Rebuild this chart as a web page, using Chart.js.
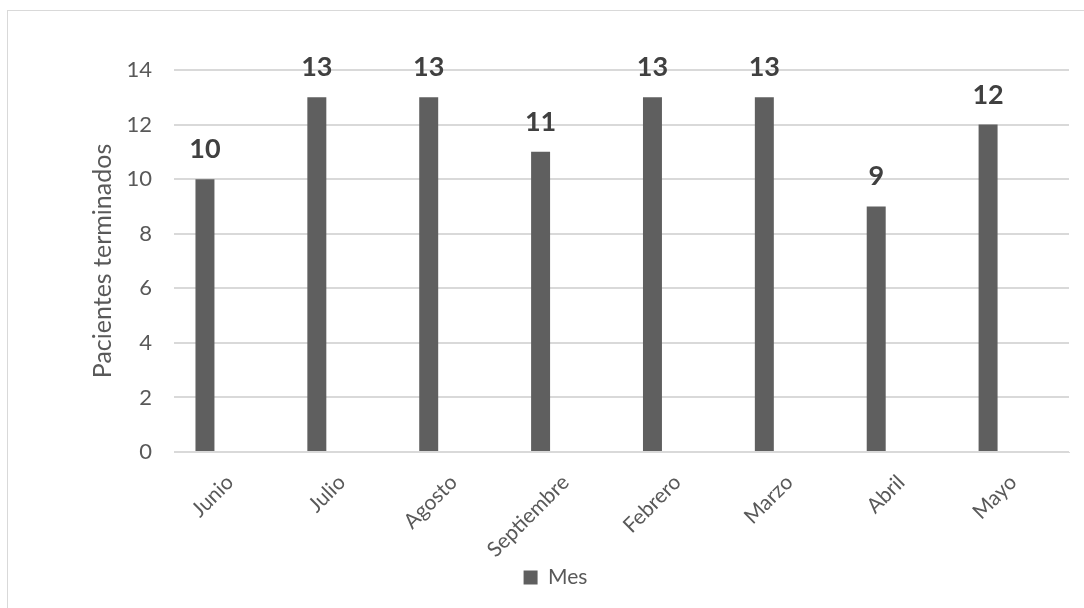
<!DOCTYPE html>
<html>
<head>
<meta charset="utf-8">
<script src="https://cdn.jsdelivr.net/npm/chart.js@4"></script>
<style>
  html, body { margin: 0; padding: 0; background: #fff; }
  #wrap { width: 1084px; height: 608px; position: relative; }
</style>
</head>
<body>
<div id="wrap"><canvas id="chart" width="1084" height="608"></canvas></div>
<script>
const months = ['Junio', 'Julio', 'Agosto', 'Septiembre', 'Febrero', 'Marzo', 'Abril', 'Mayo'];
const pacientes = [10, 13, 13, 11, 13, 13, 9, 12];
const yTicks = [0, 2, 4, 6, 8, 10, 12, 14];

const FONT = 'Lato, "Open Sans", sans-serif';

// outer frame + bold value labels above each bar
const frame = {
  id: 'frame',
  beforeDraw(chart) {
    const ctx = chart.ctx;
    ctx.save();
    ctx.fillStyle = '#fff';
    ctx.fillRect(0, 0, chart.width, chart.height);
    ctx.strokeStyle = '#d9d9d9';
    ctx.lineWidth = 1;
    ctx.strokeRect(7.5, 10.5, 1090, 610);
    ctx.restore();
  }
};

const valueLabels = {
  id: 'valueLabels',
  afterDatasetsDraw(chart) {
    const ctx = chart.ctx;
    const meta = chart.getDatasetMeta(0);
    ctx.save();
    ctx.font = 'bold 27px ' + FONT;
    ctx.fillStyle = '#404040';
    ctx.textAlign = 'center';
    ctx.textBaseline = 'alphabetic';
    meta.data.forEach((bar, i) => {
      ctx.fillText(String(pacientes[i]), bar.x, bar.y - 21);
    });
    ctx.restore();
  }
};

new Chart(document.getElementById('chart'), {
  type: 'bar',
  data: {
    labels: months,
    datasets: [
      {
        label: 'Mes',
        data: pacientes,
        backgroundColor: '#5f5f5f',
        categoryPercentage: 0.893,
        barPercentage: 0.38
      },
      {
        // empty second series keeps the bar on the left of its slot
        label: '',
        data: months.map(() => null),
        backgroundColor: 'rgba(0,0,0,0)',
        categoryPercentage: 0.893,
        barPercentage: 0.38
      }
    ]
  },
  options: {
    responsive: false,
    animation: false,
    events: [],
    layout: { padding: { top: 70, right: 15, left: 42, bottom: 10 } },
    plugins: {
      tooltip: { enabled: false },
      legend: {
        position: 'bottom',
        labels: {
          filter: item => item.text !== '',
          boxWidth: 14,
          boxHeight: 14,
          padding: 10,
          color: '#595959',
          font: { family: FONT, size: 21 }
        }
      }
    },
    scales: {
      x: {
        grid: { display: false },
        border: { color: '#d9d9d9' },
        ticks: {
          color: '#595959',
          font: { family: FONT, size: 21 },
          minRotation: 45,
          maxRotation: 45,
          padding: 10
        },
        afterFit(scale) { scale.height = 105; }
      },
      y: {
        min: 0,
        max: 14,
        afterBuildTicks(scale) { scale.ticks = yTicks.map(v => ({ value: v })); },
        grid: { color: '#d9d9d9', lineWidth: 2, drawTicks: false },
        border: { display: false },
        ticks: {
          color: '#595959',
          font: { family: FONT, size: 22 },
          padding: 22
        },
        title: {
          display: true,
          text: 'Pacientes terminados',
          color: '#595959',
          font: { family: FONT, size: 25 },
          padding: { top: 46, bottom: 0 }
        },
        afterFit(scale) { scale.width = 132; }
      }
    }
  },
  plugins: [frame, valueLabels]
});
</script>
</body>
</html>
